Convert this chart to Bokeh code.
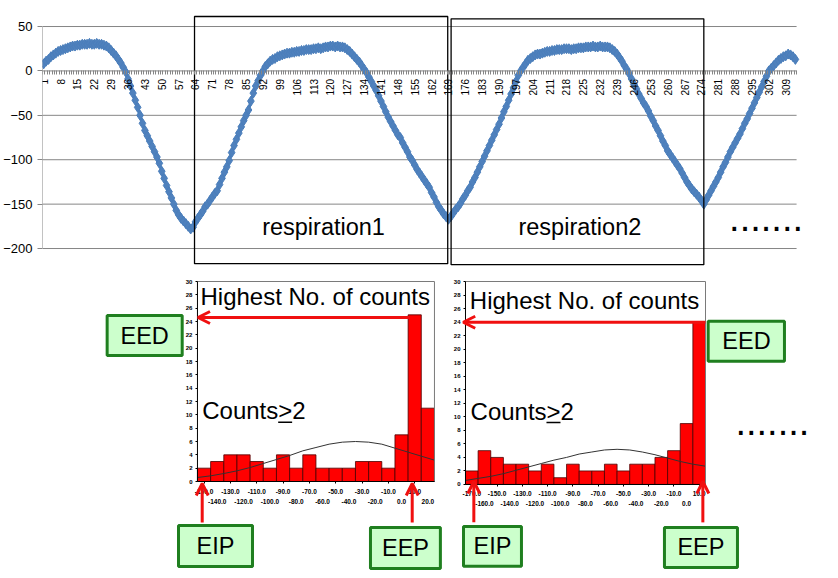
import numpy as np
from bokeh.plotting import figure
from bokeh.models import (Range1d, FixedTicker, LinearAxis, Arrow, OpenHead,
                          PrintfTickFormatter)
from bokeh.layouts import column, row
from bokeh.embed import file_html
from bokeh.resources import INLINE
from bokeh.core.properties import value

FONT = "Liberation Sans"
RED = "#F01010"
GREEN_LINE = "#1F7F1F"
GREEN_FILL = "#CCFFCC"
GRID = "#868686"

# ---------------- top chart data ----------------
sample = list(range(1, 314))
signal = [
    8, 11, 13, 16, 18, 20, 22, 23, 24, 25,
    26, 27, 28, 28, 29, 29, 30, 30, 30, 31,
    30, 30, 31, 30, 30, 29, 28, 26, 23, 20,
    17, 13, 9, 4, -1, -9, -17, -25, -33, -41,
    -50, -59, -67, -73, -79, -85, -91, -97, -104, -113,
    -121, -129, -136, -143, -150, -157, -162, -166, -169, -172,
    -175, -178, -176, -170, -166, -162, -158, -153, -150, -146,
    -142, -138, -135, -128, -121, -114, -108, -101, -92, -84,
    -77, -70, -63, -56, -50, -44, -34, -25, -17, -11,
    -5, 0, 5, 8, 11, 13, 14, 16, 17, 18,
    19, 20, 20, 21, 21, 22, 22, 23, 23, 24,
    24, 24, 25, 25, 26, 25, 26, 27, 27, 28,
    28, 27, 28, 27, 27, 26, 24, 22, 19, 16,
    13, 10, 6, 2, -2, -7, -12, -17, -22, -28,
    -34, -40, -46, -52, -57, -62, -67, -72, -75, -81,
    -86, -91, -97, -101, -106, -111, -115, -119, -123, -127,
    -131, -137, -142, -148, -153, -157, -161, -164, -167, -164,
    -160, -156, -153, -149, -144, -140, -135, -131, -125, -120,
    -114, -108, -102, -96, -90, -84, -78, -72, -66, -60,
    -53, -46, -40, -33, -26, -19, -12, -5, 0, 4,
    8, 12, 14, 16, 18, 19, 19, 20, 21, 22,
    22, 23, 23, 24, 24, 24, 25, 25, 25, 24,
    25, 25, 26, 26, 26, 27, 27, 27, 28, 27,
    27, 28, 27, 27, 27, 26, 24, 22, 19, 15,
    11, 6, 2, -3, -9, -15, -20, -26, -31, -36,
    -40, -45, -51, -56, -62, -67, -73, -79, -84, -90,
    -94, -98, -102, -106, -110, -115, -120, -125, -129, -133,
    -136, -139, -142, -146, -150, -145, -140, -135, -130, -125,
    -120, -114, -108, -103, -97, -91, -86, -81, -76, -71,
    -65, -59, -54, -48, -42, -36, -30, -24, -18, -12,
    -6, 0, 3, 6, 9, 12, 14, 16, 17, 19,
    18, 16, 13,
]
x_tick_values = [1, 8, 15, 22, 29, 36, 43, 50, 57, 64, 71, 78, 85, 92, 99, 106,
                 113, 120, 127, 134, 141, 148, 155, 162, 169, 176, 183, 190, 197,
                 204, 211, 218, 225, 232, 239, 246, 253, 260, 267, 274, 281, 288,
                 295, 302, 309]
y_ticks = [-200, -150, -100, -50, 0, 50]
resp_names = ["respiration1", "respiration2"]
resp_start = [63.6, 170.1]
resp_end = [168.7, 275.0]

# ---------------- histogram data ----------------
count_ticks = [0, 2, 4, 6, 8, 10, 12, 14, 16, 18, 20, 22, 24, 26, 28, 30]

hist1_bins = [-150.0, -140.0, -130.0, -120.0, -110.0, -100.0, -90.0, -80.0, -70.0,
              -60.0, -50.0, -40.0, -30.0, -20.0, -10.0, 0.0, 10.0, 20.0]
hist1_counts = [2, 3, 4, 4, 3, 2, 4, 2, 4, 2, 2, 2, 3, 3, 2, 7, 25, 11]
hist1_fit_x = [-155, -145, -135, -125, -115, -105, -95, -85, -75, -65, -55, -45,
               -35, -25, -15, -5, 5, 15, 25]
hist1_fit_y = [0.6, 0.85, 1.2, 1.6, 2.1, 2.7, 3.3, 3.9, 4.6, 5.1, 5.6, 5.9,
               6.0, 5.9, 5.6, 5.0, 4.4, 3.8, 3.2]

hist2_bins = [-170.0, -160.0, -150.0, -140.0, -130.0, -120.0, -110.0, -100.0, -90.0,
              -80.0, -70.0, -60.0, -50.0, -40.0, -30.0, -20.0, -10.0, 0.0, 10.0]
hist2_counts = [2, 5, 4, 3, 3, 2, 3, 1, 3, 2, 2, 3, 2, 3, 3, 4, 5, 9, 24]
hist2_fit_x = [-175, -165, -155, -145, -135, -125, -115, -105, -95, -85, -75, -65,
               -55, -45, -35, -25, -15, -5, 5, 15]
hist2_fit_y = [0.6, 0.9, 1.2, 1.6, 2.1, 2.6, 3.1, 3.6, 4.0, 4.5, 4.8, 5.1,
               5.2, 5.1, 4.8, 4.4, 3.9, 3.4, 3.0, 2.7]

# ================= top chart =================
n = len(sample)
top = figure(width=838, height=276, output_backend="svg", toolbar_location=None,
             x_range=Range1d(0.5, 330.9), y_range=Range1d(-231.5, 79.3),
             x_axis_location=None, min_border_left=40, min_border_right=0,
             min_border_top=0, min_border_bottom=0)
top.outline_line_color = None
top.grid.visible = False
top.background_fill_color = "white"
top.border_fill_color = "white"
top.yaxis.ticker = FixedTicker(ticks=y_ticks)
top.yaxis.axis_line_color = None
top.yaxis.major_tick_line_color = GRID
top.yaxis.major_tick_out = 5
top.yaxis.major_tick_in = 0
top.yaxis.minor_tick_line_color = None
top.yaxis.major_label_standoff = 5
top.yaxis.major_label_text_font = FONT
top.yaxis.major_label_text_font_size = "13px"
top.yaxis.major_label_text_color = "#000000"

bounds = [i + 0.5 for i in range(n + 1)]
xax = LinearAxis(fixed_location=0, ticker=FixedTicker(ticks=x_tick_values, minor_ticks=bounds))
xax.axis_line_color = None
xax.major_tick_line_color = None
xax.major_tick_out = 4
xax.major_tick_in = 0
xax.minor_tick_line_color = GRID
xax.minor_tick_out = 4
xax.minor_tick_in = 0
xax.major_label_orientation = np.pi / 2
xax.major_label_standoff = 4
xax.major_label_text_font = FONT
xax.major_label_text_font_size = "10px"
xax.major_label_text_color = "#000000"
top.add_layout(xax, "below")

top.segment(x0=0.5, y0=y_ticks, x1=n + 0.5, y1=y_ticks, line_color=GRID, line_width=1)
top.segment(x0=[0.5], y0=[y_ticks[0]], x1=[0.5], y1=[y_ticks[-1]], line_color=GRID, line_width=1)

top.line(sample, signal, line_color="#4A7EBB", line_width=3)
top.scatter(sample, signal, marker="diamond", size=10, fill_color="#4F81BD",
            line_color="#4A7EBB", line_width=1)

top.quad(left=resp_start, right=resp_end, top=[61.3, 58.7], bottom=[-217.1, -218.2],
         fill_color=None, line_color="black", line_width=1.3)
top.text(x=[(s + e) / 2 + 1 for s, e in zip(resp_start, resp_end)], y=-175.7,
         text=resp_names, text_align="center", text_baseline="middle",
         text_font=value(FONT), text_font_size="23.5px", text_color="#000000")
top.text(x=[285.5], y=[-164.9], text=["......."], text_align="left",
         text_baseline="middle", text_font=value(FONT), text_font_size="38px",
         text_color="#000000")


# ================= histograms =================
def build_hist(bins, counts, fit_x, fit_y, width, xr, yr, x_left, x_right):
    p = figure(width=width, height=300, output_backend="svg", toolbar_location=None,
               x_range=Range1d(*xr), y_range=Range1d(*yr), x_axis_location=None,
               y_axis_location=None, min_border=0)
    p.grid.visible = False
    p.outline_line_color = None
    p.background_fill_color = "white"
    p.border_fill_color = "white"

    yax = LinearAxis(fixed_location=x_left, ticker=FixedTicker(ticks=count_ticks))
    yax.axis_line_color = None
    yax.major_tick_out = 2
    yax.major_tick_in = 0
    yax.minor_tick_line_color = None
    yax.major_label_standoff = 3
    yax.major_label_text_font = FONT
    yax.major_label_text_font_style = "bold"
    yax.major_label_text_font_size = "6px"
    yax.major_label_text_color = "#000000"
    p.add_layout(yax, "left")

    odd = bins[0::2]
    even = bins[1::2]
    ax1 = LinearAxis(fixed_location=0, ticker=FixedTicker(ticks=odd),
                     formatter=PrintfTickFormatter(format="%.1f"))
    ax2 = LinearAxis(fixed_location=0, ticker=FixedTicker(ticks=even),
                     formatter=PrintfTickFormatter(format="%.1f"))
    for ax, so in ((ax1, 5), (ax2, 15)):
        ax.axis_line_color = None
        ax.major_tick_in = 0
        ax.major_tick_out = 2
        ax.minor_tick_line_color = None
        ax.major_label_standoff = so
        ax.major_label_text_font = FONT
        ax.major_label_text_font_style = "bold"
        ax.major_label_text_font_size = "6.5px"
        ax.major_label_text_color = "#000000"
    ax2.major_tick_line_color = None
    p.add_layout(ax1, "below")
    p.add_layout(ax2, "below")

    p.vbar(x=bins, top=counts, bottom=0, width=10, fill_color="#FF0000",
           line_color="#4a0000", line_width=0.8)
    p.line(fit_x, fit_y, line_color="#333333", line_width=1)
    # plot-area border: black axes left/bottom, grey top/right
    p.segment(x0=[x_left, x_right], y0=[30, 0], x1=[x_right, x_right], y1=[30, 30],
              line_color="#7a7a7a", line_width=1)
    p.segment(x0=[x_left, x_left], y0=[0, 0], x1=[x_right, x_left], y1=[0, 30],
              line_color="#000000", line_width=1)
    return p


def green_box(p, l, r, t, b, text, cx, cy):
    p.quad(left=[l], right=[r], top=[t], bottom=[b], fill_color=GREEN_FILL,
           line_color=GREEN_LINE, line_width=3)
    p.text(x=[cx], y=[cy], text=[text], text_align="center", text_baseline="middle",
           text_font=value(FONT), text_font_size="23.5px", text_color="#000000")


def red_arrow(p, xs, ys, xe, ye):
    p.add_layout(Arrow(end=OpenHead(line_color=RED, line_width=3, size=12),
                       x_start=xs, y_start=ys, x_end=xe, y_end=ye,
                       line_color=RED, line_width=3))


def texts(p, hx, hy, cx, cy, ux0, ux1, uy):
    p.text(x=[hx], y=[hy], text=["Highest No. of counts"], text_align="left",
           text_baseline="middle", text_font=value(FONT), text_font_size="24px",
           text_color="#000000")
    p.text(x=[cx], y=[cy], text=["Counts>2"], text_align="left",
           text_baseline="middle", text_font=value(FONT), text_font_size="24px",
           text_color="#000000")
    p.segment(x0=[ux0], y0=[uy], x1=[ux1], y1=[uy], line_color="#000000", line_width=1.5)


# ---- histogram 1 ----
h1 = build_hist(hist1_bins, hist1_counts, hist1_fit_x, hist1_fit_y, 452,
                (-304.6, 38.7), (-14.25, 30.75), -155, 25)
texts(h1, -152.7, 27.75, -151.4, 10.65, -93.7, -83.1, 8.9)
red_arrow(h1, 6.0, 24.6, -154.6, 24.6)
green_box(h1, -223.6, -166.6, 24.9, 18.9, "EED", -195.1, 21.9)
red_arrow(h1, -151.4, -6.15, -151.4, -0.3)
red_arrow(h1, 8.1, -6.15, 8.1, -0.3)
green_box(h1, -169.4, -113.2, -6.6, -12.75, "EIP", -141.3, -9.67)
green_box(h1, -23.6, 29.5, -6.9, -13.05, "EEP", 3.0, -9.97)

# ---- histogram 2 ----
h2 = build_hist(hist2_bins, hist2_counts, hist2_fit_x, hist2_fit_y, 386,
                (-185.29, 120.28), (-13.6, 30.74), -175, 15)
texts(h2, -171.6, 27.19, -171.0, 10.83, -110.9, -99.8, 9.16)
red_arrow(h2, 15.0, 23.98, -176.8, 23.98)
green_box(h2, 17.1, 77.5, 24.13, 18.22, "EED", 47.4, 21.18)
red_arrow(h2, -168.4, -5.6, -168.4, 0.44)
red_arrow(h2, 12.9, -5.6, 12.9, 0.44)
green_box(h2, -176.6, -130.7, -6.2, -12.1, "EIP", -153.6, -9.16)
green_box(h2, -17.5, 40.3, -6.35, -12.27, "EEP", 11.4, -9.3)
h2.text(x=[38.7], y=[9.27], text=["......."], text_align="left",
        text_baseline="middle", text_font=value(FONT), text_font_size="38px",
        text_color="#000000")

layout = column(top, row(h1, h2))
open("out.html", "w").write(file_html(layout, INLINE, "respiration histograms"))
